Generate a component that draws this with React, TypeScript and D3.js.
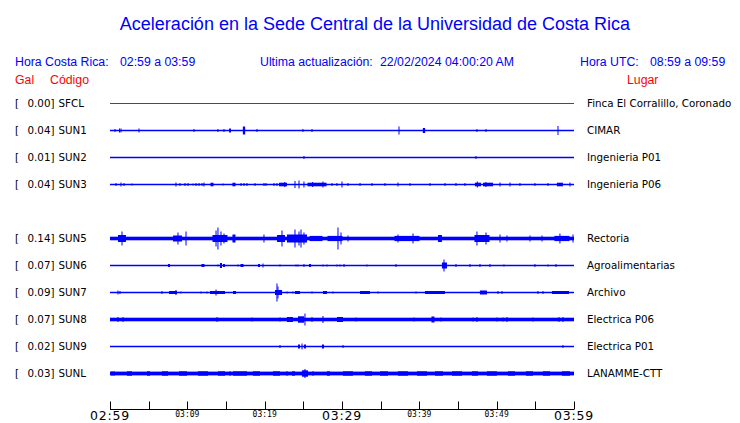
import React from "react";
import * as d3 from "d3";

// ---------- data ----------
const title = "Aceleración en la Sede Central de la Universidad de Costa Rica";
const localRange = "02:59 a 03:59";
const utcRange = "08:59 a 09:59";
const lastUpdate = "22/02/2024 04:00:20 AM";

const codes = ["SFCL", "SUN1", "SUN2", "SUN3", "SUN5", "SUN6", "SUN7", "SUN8", "SUN9", "SUNL"];
const galValues = [0.0, 0.04, 0.01, 0.04, 0.14, 0.07, 0.09, 0.07, 0.02, 0.03];
const places = [
  "Finca El Corralillo, Coronado",
  "CIMAR",
  "Ingenieria P01",
  "Ingenieria P06",
  "Rectoria",
  "Agroalimentarias",
  "Archivo",
  "Electrica P06",
  "Electrica P01",
  "LANAMME-CTT",
];
// background noise half-amplitude per station (relative units)
const noiseLevel = [0.5, 0.75, 0.75, 0.75, 1.8, 0.75, 0.75, 1.8, 0.75, 1.9];
const traceColors = ["#ff0000", "#0000ff", "#0000ff", "#0000ff", "#0000ff", "#0000ff", "#0000ff", "#0000ff", "#0000ff", "#0000ff"];

// events: [minute after 02:59, half amplitude, duration in minutes]
type Ev = [number, number, number?];
const sfclEvents: Ev[] = [];
const sun1Events: Ev[] = [
  [0.65, 1.5], [1.23, 2], [1.42, 2], [3.75, 2], [10.86, 1.5], [13.96, 1.5], [14.74, 1.5],
  [15.52, 2, 0.25], [17.33, 4, 0.3], [19.01, 1.5], [24.95, 1.5], [26.12, 1.5], [37.37, 4],
  [40.6, 2.5, 0.3], [47.45, 1.5], [48.62, 1.5], [57.93, 4.5],
];
const sun2Events: Ev[] = [[25.08, 1.5], [47.32, 1.5]];
const sun3Events: Ev[] = [
  [0.78, 1.5], [1.42, 2], [1.81, 1.5], [2.84, 1], [8.53, 2], [9.05, 1.5], [9.7, 1.5], [10.09, 1.5],
  [10.73, 1], [11.12, 1.5], [11.51, 1.5], [11.9, 1.5], [12.15, 2], [13.19, 1.8, 0.39], [14.61, 1],
  [16.03, 1.8, 0.39], [16.94, 1.5], [17.33, 1.5], [17.71, 1.5], [18.75, 1.5], [19.91, 1.5], [20.17, 1.5],
  [21.21, 1.5], [21.59, 1.5], [22.37, 1.8, 1.03], [22.6, 2.5], [23.92, 3.5], [24.44, 4], [25.08, 3],
  [26.77, 1.8, 2.46], [26.2, 2.5], [27.54, 3], [28.7, 1.5], [29.35, 1.5], [30.0, 3], [30.77, 1.5], [32.33, 1.5],
  [33.88, 1.5], [35.56, 1.5], [37.24, 2], [38.79, 1.5], [41.38, 1.5], [43.32, 1.5], [44.74, 1.5],
  [45.9, 1.5], [47.58, 1.8, 0.78], [47.5, 3], [48.88, 1.8, 1.29], [48.6, 2.5], [50.43, 2], [51.72, 2], [53.01, 1.5],
  [54.95, 1.5], [56.63, 1.5], [58.18, 1.8, 0.78], [59.48, 2],
];
const sun5Events: Ev[] = [
  [1.55, 3.5, 1.03], [1.55, 7], [8.73, 3, 1.16], [8.79, 6], [9.83, 7],
  [14.22, 3.5, 1.94], [13.96, 11], [13.71, 8], [14.35, 7], [14.74, 5], [16.03, 4, 0.39], [19.91, 4],
  [22.11, 3.5, 1.03], [22.24, 8], [24.18, 4, 2.59], [23.92, 9], [24.44, 7], [24.7, 9], [25.08, 6],
  [26.64, 2.6, 1.68], [29.09, 2.6, 1.94], [29.48, 11], [29.87, 6], [30.77, 3],
  [38.4, 2.6, 3.23], [39.18, 5], [37.24, 4], [42.67, 3.5, 0.5], [48.1, 3.5, 1.94], [47.45, 7], [48.62, 6],
  [50.43, 4], [51.33, 3], [54.31, 3], [55.86, 3], [58.44, 2.6, 1.94], [58.18, 5], [59.87, 4],
];
const sun6Events: Ev[] = [
  [7.63, 1.5, 0.26], [12.02, 1.5, 0.39], [13.96, 1], [14.35, 2.5, 0.26], [14.74, 1.5, 0.26], [16.55, 1],
  [17.07, 1.5, 0.39], [19.27, 1.5, 0.26], [19.78, 2], [21.98, 1], [24.05, 1], [24.31, 1], [25.08, 1.5],
  [25.86, 1.5, 0.26], [27.54, 1], [28.06, 1], [29.35, 1], [29.74, 1], [30.26, 1.5], [33.23, 1],
  [36.98, 1.5], [43.25, 3, 0.65], [43.19, 6], [44.74, 1.5], [46.55, 1.5], [47.84, 1.5], [49.13, 1.5],
  [50.94, 1], [54.95, 1.5], [56.63, 1], [57.67, 1.5],
];
const sun7Events: Ev[] = [
  [1.03, 2], [1.29, 1.5], [6.72, 1.5], [8.15, 1.5, 1.03], [8.53, 2.5], [9.18, 1], [11.77, 1], [12.54, 1],
  [13.9, 1.5, 1.94], [13.71, 3], [16.1, 1.5, 0.39], [21.79, 2.5, 0.91], [21.59, 9], [21.72, 6],
  [22.89, 1], [23.66, 1], [24.24, 1.5, 0.65], [26.12, 1], [27.8, 1.5, 0.52], [28.83, 1],
  [32.97, 1.5, 1.29], [34.65, 1], [39.57, 1], [42.02, 1.5, 2.59], [48.29, 2, 0.91], [50.17, 1.5],
  [50.69, 1.5], [55.34, 1.5], [55.99, 1.5], [58.25, 1.5, 2.2],
];
const sun8Events: Ev[] = [
  [1.03, 2.5], [1.68, 2.5], [13.84, 2.5], [18.36, 2], [21.98, 2], [23.27, 2.5, 0.78], [24.7, 3.2, 0.78],
  [25.21, 6], [26.12, 2.5], [27.54, 3.5], [29.74, 2.5, 0.78], [31.81, 2], [39.31, 2], [41.76, 3, 0.39],
  [42.8, 2], [46.94, 2], [47.45, 2.5], [50.04, 2], [50.81, 2], [51.33, 2.5], [54.69, 2], [58.06, 2.5],
  [58.57, 2.5],
];
const sun9Events: Ev[] = [
  [21.98, 1.5], [24.44, 2, 0.26], [24.83, 3], [25.21, 2, 0.26], [27.54, 2, 0.26], [30.13, 1.5], [58.57, 1.5],
];
const sunlEvents: Ev[] = [
  [0.26, 2.4], [0.52, 2.4], [2.52, 2.2, 0.65], [4.98, 2.2, 0.39], [7.11, 2.2, 0.78], [9.44, 2.2, 1.03],
  [12.02, 2.2, 1.29], [14.42, 2.2, 0.91], [15.52, 2.4], [16.81, 2.2, 1.81], [18.94, 2.2, 0.91],
  [21.53, 2.2, 0.91], [22.89, 2.4], [23.73, 2.2, 0.39], [25.21, 3.2, 0.78], [25.21, 4.5], [26.25, 2.4],
  [28.25, 2.2, 0.39], [30.77, 2.2, 1.29], [33.42, 2.2, 0.91], [35.43, 2.2, 1.03], [37.88, 2.2, 1.29],
  [40.34, 2.2, 1.29], [42.54, 2.2, 1.03], [44.87, 2.2, 1.29], [47.19, 2.2, 0.78], [49.39, 2.2, 1.29],
  [51.91, 2.2, 0.91], [54.24, 2.2, 0.91], [56.44, 2.2, 0.91], [58.96, 2.2, 1.03],
];
const traceEvents: Ev[][] = [
  sfclEvents, sun1Events, sun2Events, sun3Events, sun5Events,
  sun6Events, sun7Events, sun8Events, sun9Events, sunlEvents,
];

const tickMinutes = [0, 5, 10, 15, 20, 25, 30, 35, 40, 45, 50, 55, 60];
const labelMinutes = [0, 10, 20, 30, 40, 50, 60];
const tickLabels = ["02:59", "03:09", "03:19", "03:29", "03:39", "03:49", "03:59"];
const bigLabels = ["02:59", "03:29", "03:59"];

// layout: slot index for each row (a blank slot after SUN3)
const rowSlots = [0, 1, 2, 3, 5, 6, 7, 8, 9, 10];

const W = 740;
const H = 423;

export default function App() {
  const x = d3.scaleLinear().domain([0, 60]).range([110, 574]);
  const rowY = d3.scaleLinear().domain([0, 10]).range([103.5, 373.5]);
  const amp = d3.scaleLinear().domain([-12, 12]).range([12, -12]);
  const blue = "#0000ff";
  const red = "#ff0000";
  const sans = "'Liberation Sans', Arial, sans-serif";
  const dj = "'DejaVu Sans', sans-serif";
  const mono = "'DejaVu Sans Mono', monospace";

  return (
    <svg
      width={W}
      height={H}
      style={{ position: "absolute", left: 0, top: 0, background: "#fff" }}
    >
      <rect x={0} y={0} width={W} height={H} fill="#fff" />
      <text x={375} y={30} textAnchor="middle" fontFamily={sans} fontSize={18} fill={blue}>
        {title}
      </text>
      <g fontFamily={sans} fontSize={12.3} fill={blue}>
        <text x={15} y={66}>Hora Costa Rica:</text>
        <text x={120} y={66}>{localRange}</text>
        <text x={260} y={66}>Ultima actualización:</text>
        <text x={380} y={66}>{lastUpdate}</text>
        <text x={580} y={66}>Hora UTC:</text>
        <text x={650} y={66}>{utcRange}</text>
      </g>
      <g fontFamily={sans} fontSize={12.3} fill={red}>
        <text x={15} y={84}>Gal</text>
        <text x={50} y={84}>Código</text>
        <text x={627} y={84}>Lugar</text>
      </g>

      {codes.map((code, i) => {
        const cy = rowY(rowSlots[i]);
        const n = noiseLevel[i];
        const col = traceColors[i];
        return (
          <g key={code}>
            <g fontFamily={dj} fontSize={10.3} fill="#000">
              <text x={15} y={cy + 3.8}>[</text>
              <text x={54.5} y={cy + 3.8} textAnchor="end">{galValues[i].toFixed(2) + "]"}</text>
              <text x={58.5} y={cy + 3.8}>{code}</text>
              <text x={587} y={cy + 3.8}>{places[i]}</text>
            </g>
            <rect
              x={x(0)}
              width={x(60) - x(0)}
              y={cy + amp(n)}
              height={amp(-n) - amp(n)}
              fill={col}
            />
            {traceEvents[i].map((ev, j) => {
              const [t, a, d = 0] = ev;
              const x0 = x(t - d / 2);
              const w = Math.max(1, x(t + d / 2) - x0);
              return (
                <rect
                  key={j}
                  x={Math.max(x(0), x0 - (d ? 0 : 0.5))}
                  width={w}
                  y={cy + amp(a)}
                  height={amp(-a) - amp(a)}
                  fill={col}
                />
              );
            })}
          </g>
        );
      })}

      <g>
        <line x1={x(0)} x2={x(60)} y1={409.5} y2={409.5} stroke="#000" strokeWidth={1} />
        {tickMinutes.map((m) => (
          <line
            key={m}
            x1={Math.round(x(m)) + 0.5}
            x2={Math.round(x(m)) + 0.5}
            y1={401.5}
            y2={409.5}
            stroke="#000"
            strokeWidth={1}
          />
        ))}
        {labelMinutes.map((m, k) => {
          const big = bigLabels.includes(tickLabels[k]);
          return (
            <text
              key={m}
              x={x(m)}
              y={big ? 420 : 417}
              textAnchor="middle"
              fontFamily={big ? dj : mono}
              fontSize={big ? 12.5 : 8}
              letterSpacing={big ? 0.8 : 0}
              fill="#000"
            >
              {tickLabels[k]}
            </text>
          );
        })}
      </g>
    </svg>
  );
}
